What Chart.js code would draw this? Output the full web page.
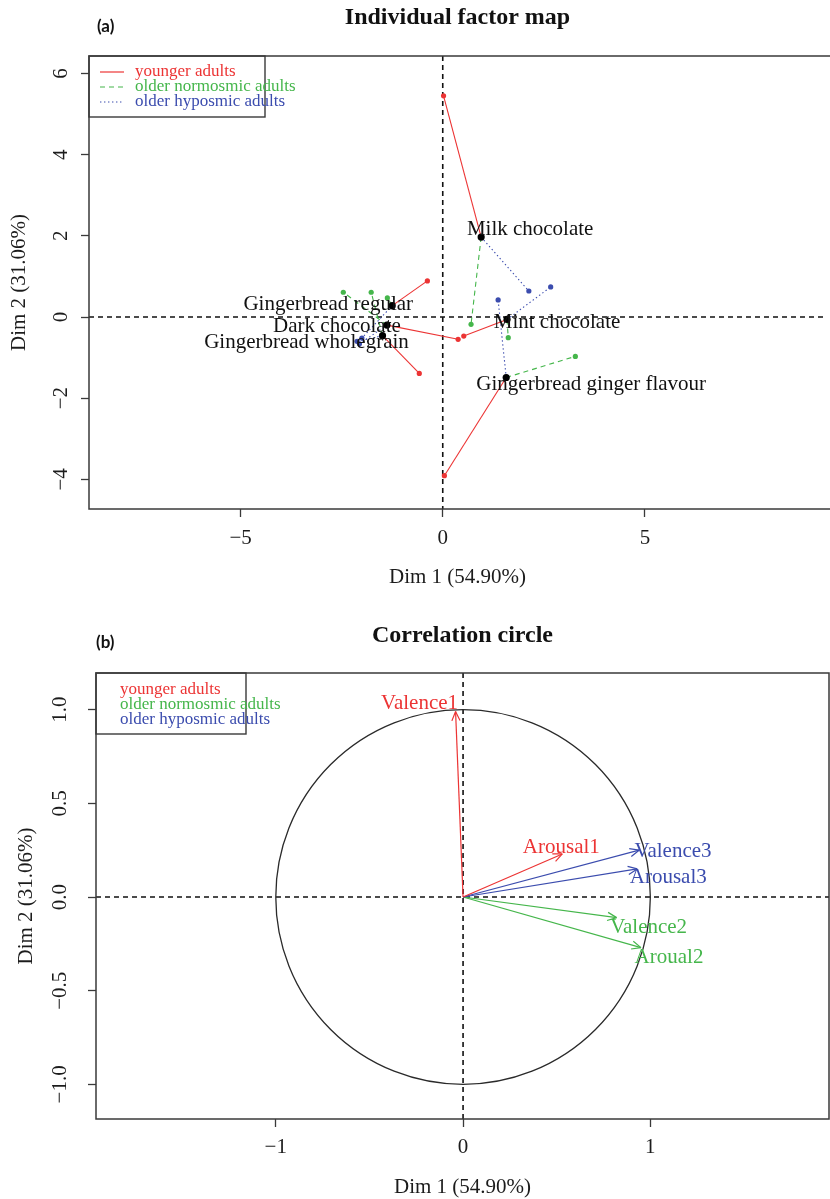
<!DOCTYPE html>
<html>
<head>
<meta charset="utf-8">
<title>Individual factor map and correlation circle</title>
<script src="https://cdn.jsdelivr.net/npm/chart.js@4.4.1/dist/chart.umd.min.js"></script>
<style>
  html, body { margin: 0; padding: 0; background: #fff; width: 830px; height: 1199px; overflow: hidden; }
  .panel { position: absolute; left: 0; }
  #mapPanel { top: 0; width: 830px; height: 600px; }
  #circlePanel { top: 600px; width: 830px; height: 599px; }
</style>
</head>
<body>
<div class="panel" id="mapPanel"><canvas id="mapChart" width="830" height="600"></canvas></div>
<div class="panel" id="circlePanel"><canvas id="circleChart" width="830" height="599"></canvas></div>
<script>
// ---------- (a) individual factor map: product means and partial points per group ----------
const products = ["Milk chocolate", "Mint chocolate", "Gingerbread ginger flavour",
                  "Gingerbread regular", "Dark chocolate", "Gingerbread wholegrain"];
const meanX = [0.95, 1.59, 1.57, -1.25, -1.38, -1.49];
const meanY = [1.97, -0.06, -1.49, 0.28, -0.20, -0.46];

const youngerX   = [0.02, 0.52, 0.04, -0.38, 0.38, -0.58];
const youngerY   = [5.45, -0.47, -3.91, 0.89, -0.55, -1.39];
const normosmicX = [0.70, 1.62, 3.28, -1.37, -2.46, -1.77];
const normosmicY = [-0.18, -0.51, -0.97, 0.47, 0.61, 0.61];
const hyposmicX  = [2.13, 2.67, 1.37, -2.00, -2.06, -2.12];
const hyposmicY  = [0.64, 0.74, 0.42, -0.52, -0.66, -0.60];

const groupNames = ["younger adults", "older normosmic adults", "older hyposmic adults"];

const mapTicksX = [-5, 0, 5];
const mapTicksY = [-4, -2, 0, 2, 4, 6];

// ---------- (b) correlation circle: variable coordinates ----------
const variables = ["Valence1", "Arousal1", "Valence3", "Arousal3", "Valence2", "Aroual2"];
const varDim1 = [-0.04, 0.53, 0.94, 0.93, 0.82, 0.95];
const varDim2 = [0.99, 0.23, 0.25, 0.15, -0.11, -0.27];
const varGroup = [0, 0, 2, 2, 1, 1];

const circleTicksX = [-1, 0, 1];
const circleTicksY = [-1, -0.5, 0, 0.5, 1];

// ---------- styling ----------
const SERIF = '"Liberation Serif", "Times New Roman", serif';
const INK = '#1c1c1c';
const FRAME = '#3a3a3a';
const groupColors = ['#ec3434', '#45b64b', '#3b4cae'];
const groupDash = [[], [5, 4], [1.4, 2.6]];
const minus = s => String(s).replace('-', '\u2212');

// label placement relative to the drawn point, in pixels
const productLabelShift = [[49, -8], [50, 3], [85, 7], [-64, -1], [-50, 1], [-76, 7]];
const variableLabelShift = [[-36, -8], [-1, -6], [34, 1], [31, 9], [32, 10], [28, 10]];

Chart.defaults.font.family = SERIF;
Chart.defaults.color = INK;

function xAxis(min, max, ticks, fmt, height, tickPad, titlePad) {
  return {
    type: 'linear', position: 'bottom', min, max,
    afterBuildTicks: s => { s.ticks = ticks.map(v => ({ value: v })); },
    afterFit: s => { s.height = height; },
    grid: { drawOnChartArea: false, drawTicks: true, tickLength: 8, tickWidth: 1.3, tickColor: FRAME, color: FRAME },
    border: { display: false },
    ticks: { autoSkip: false, maxRotation: 0, minRotation: 0, padding: tickPad, color: INK,
             font: { family: SERIF, size: 21, lineHeight: 1 }, callback: fmt },
    title: { display: true, text: 'Dim 1 (54.90%)', color: INK,
             font: { family: SERIF, size: 21, lineHeight: 1 }, padding: { top: 0, bottom: titlePad } }
  };
}

function yAxis(min, max, ticks, fmt, width, titlePad, tickPad) {
  return {
    type: 'linear', position: 'left', min, max,
    afterBuildTicks: s => { s.ticks = ticks.map(v => ({ value: v })); },
    afterFit: s => { s.width = width; },
    grid: { drawOnChartArea: false, drawTicks: true, tickLength: 8, tickWidth: 1.3, tickColor: FRAME, color: FRAME },
    border: { display: false },
    ticks: { autoSkip: false, minRotation: 90, maxRotation: 90, crossAlign: 'center', padding: tickPad,
             color: INK, font: { family: SERIF, size: 21, lineHeight: 1 }, callback: fmt },
    title: { display: true, text: 'Dim 2 (31.06%)', color: INK,
             font: { family: SERIF, size: 21, lineHeight: 1 }, padding: { top: titlePad, bottom: 0 } }
  };
}

function drawZeroLines(chart) {
  const { ctx, chartArea: a, scales: { x, y } } = chart;
  const x0 = x.getPixelForValue(0), y0 = y.getPixelForValue(0);
  ctx.save();
  ctx.strokeStyle = '#111';
  ctx.lineWidth = 1.6;
  ctx.setLineDash([5, 4]);
  ctx.beginPath();
  ctx.moveTo(x0, a.top); ctx.lineTo(x0, a.bottom);
  ctx.moveTo(a.left, y0); ctx.lineTo(a.right, y0);
  ctx.stroke();
  ctx.restore();
}

// box around the plot region; openRight lets the box run past the canvas edge
function drawFrameAndHeading(chart, title, tag, titleY, tagX, tagY, openRight) {
  const { ctx, chartArea: a } = chart;
  const right = openRight ? chart.width + 4 : a.right;
  ctx.save();
  ctx.strokeStyle = FRAME;
  ctx.lineWidth = 1.5;
  ctx.strokeRect(a.left, a.top, right - a.left, a.bottom - a.top);
  ctx.fillStyle = '#111';
  ctx.textAlign = 'center';
  ctx.textBaseline = 'middle';
  ctx.font = 'bold 24px ' + SERIF;
  ctx.fillText(title, (a.left + a.right) / 2, titleY);
  ctx.textAlign = 'left';
  ctx.font = 'bold 17px Lato, "Open Sans", sans-serif';
  ctx.fillText(tag, tagX, tagY);
  ctx.restore();
}

function drawLegendBox(chart, width, height, rows, withLines) {
  const { ctx, chartArea: a } = chart;
  ctx.save();
  ctx.strokeStyle = FRAME;
  ctx.lineWidth = 1.4;
  ctx.strokeRect(a.left, a.top, width, height);
  ctx.font = '17px ' + SERIF;
  ctx.textAlign = 'left';
  ctx.textBaseline = 'middle';
  groupNames.forEach((name, g) => {
    const yy = a.top + rows[g];
    if (withLines) {
      ctx.strokeStyle = groupColors[g];
      ctx.lineWidth = 1.2;
      ctx.setLineDash(groupDash[g]);
      ctx.beginPath();
      ctx.moveTo(a.left + 11, yy); ctx.lineTo(a.left + 35, yy);
      ctx.stroke();
      ctx.setLineDash([]);
    }
    ctx.fillStyle = groupColors[g];
    ctx.fillText(name, a.left + (withLines ? 46 : 24), yy);
  });
  ctx.restore();
}

// ---------- chart (a) ----------
const mapDatasets = [{
  label: 'product means',
  data: products.map((p, i) => ({ x: meanX[i], y: meanY[i] })),
  showLine: false, pointRadius: 3.6, pointBackgroundColor: '#000', pointBorderWidth: 0
}];
const partialX = [youngerX, normosmicX, hyposmicX];
const partialY = [youngerY, normosmicY, hyposmicY];
partialX.forEach((gx, g) => {
  gx.forEach((v, i) => {
    mapDatasets.push({
      label: groupNames[g] + ': ' + products[i],
      data: [{ x: meanX[i], y: meanY[i] }, { x: v, y: partialY[g][i] }],
      showLine: true, tension: 0,
      borderColor: groupColors[g], borderWidth: 1.1, borderDash: groupDash[g],
      pointRadius: [0, 2.6], pointBackgroundColor: groupColors[g], pointBorderWidth: 0
    });
  });
});

const mapDecor = {
  id: 'mapDecor',
  beforeDatasetsDraw(chart) { drawZeroLines(chart); },
  afterDatasetsDraw(chart) {
    const { ctx, scales: { x, y } } = chart;
    drawFrameAndHeading(chart, 'Individual factor map', '(a)', 18, 97, 27, true);
    drawLegendBox(chart, 176, 61, [16, 31, 46], true);
    ctx.save();
    ctx.fillStyle = '#111';
    ctx.font = '21px ' + SERIF;
    ctx.textAlign = 'center';
    ctx.textBaseline = 'middle';
    products.forEach((name, i) => {
      ctx.fillText(name, x.getPixelForValue(meanX[i]) + productLabelShift[i][0],
                         y.getPixelForValue(meanY[i]) + productLabelShift[i][1]);
    });
    ctx.restore();
  }
};

new Chart(document.getElementById('mapChart'), {
  type: 'scatter',
  data: { datasets: mapDatasets },
  options: {
    responsive: false, animation: false, events: [],
    layout: { padding: { top: 56, right: 1, bottom: 0, left: 0 } },
    plugins: { legend: { display: false }, tooltip: { enabled: false } },
    scales: {
      x: xAxis(-8.75, 9.48, mapTicksX, v => minus(v), 91, 11, 12),
      y: yAxis(-4.73, 6.43, mapTicksY, v => minus(v), 89, 9, 8)
    }
  },
  plugins: [mapDecor]
});

// ---------- chart (b) ----------
const circleDatasets = variables.map((name, i) => ({
  label: name,
  data: [{ x: 0, y: 0 }, { x: varDim1[i], y: varDim2[i] }],
  showLine: true, tension: 0,
  borderColor: groupColors[varGroup[i]], borderWidth: 1.2, pointRadius: 0
}));

const circleDecor = {
  id: 'circleDecor',
  beforeDatasetsDraw(chart) {
    const { ctx, scales: { x, y } } = chart;
    drawZeroLines(chart);
    const cx = x.getPixelForValue(0), cy = y.getPixelForValue(0);
    ctx.save();
    ctx.strokeStyle = '#2a2a2a';
    ctx.lineWidth = 1.3;
    ctx.beginPath();
    ctx.ellipse(cx, cy, x.getPixelForValue(1) - cx, cy - y.getPixelForValue(1), 0, 0, Math.PI * 2);
    ctx.stroke();
    ctx.restore();
  },
  afterDatasetsDraw(chart) {
    const { ctx } = chart;
    drawFrameAndHeading(chart, 'Correlation circle', '(b)', 36, 96, 43, false);
    drawLegendBox(chart, 150, 61, [17, 32, 47], false);
    ctx.save();
    ctx.font = '21px ' + SERIF;
    ctx.textAlign = 'center';
    ctx.textBaseline = 'middle';
    chart.data.datasets.forEach((ds, i) => {
      const pts = chart.getDatasetMeta(i).data;
      const p0 = pts[0], p1 = pts[1];
      const ang = Math.atan2(p1.y - p0.y, p1.x - p0.x);
      const col = groupColors[varGroup[i]];
      ctx.strokeStyle = col;
      ctx.lineWidth = 1.2;
      ctx.beginPath();
      [-0.42, 0.42].forEach(d => {
        ctx.moveTo(p1.x, p1.y);
        ctx.lineTo(p1.x - 10 * Math.cos(ang + d), p1.y - 10 * Math.sin(ang + d));
      });
      ctx.stroke();
      ctx.fillStyle = col;
      ctx.fillText(variables[i], p1.x + variableLabelShift[i][0], p1.y + variableLabelShift[i][1]);
    });
    ctx.restore();
  }
};

new Chart(document.getElementById('circleChart'), {
  type: 'scatter',
  data: { datasets: circleDatasets },
  options: {
    responsive: false, animation: false, events: [],
    layout: { padding: { top: 73, right: 1, bottom: 0, left: 0 } },
    plugins: { legend: { display: false }, tooltip: { enabled: false } },
    scales: {
      x: xAxis(-1.96, 1.954, circleTicksX, v => minus(v), 80, 10, 1),
      y: yAxis(-1.185, 1.196, circleTicksY, v => minus(Number(v).toFixed(1)), 96, 16, 8)
    }
  },
  plugins: [circleDecor]
});
</script>
</body>
</html>
